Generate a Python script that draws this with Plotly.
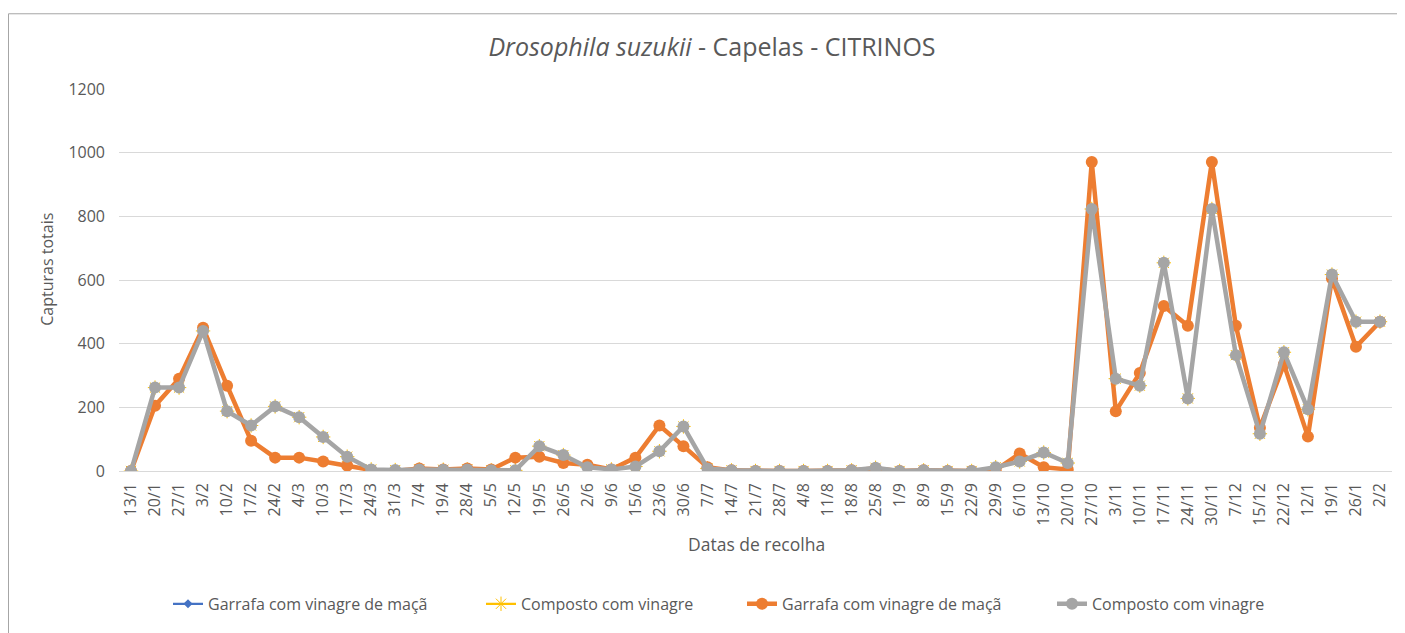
import plotly.graph_objects as go

datas = ["13/1","20/1","27/1","3/2","10/2","17/2","24/2","4/3","10/3","17/3","24/3","31/3",
         "7/4","19/4","28/4","5/5","12/5","19/5","26/5","2/6","9/6","15/6","23/6","30/6",
         "7/7","14/7","21/7","28/7","4/8","11/8","18/8","25/8","1/9","8/9","15/9","22/9",
         "29/9","6/10","13/10","20/10","27/10","3/11","10/11","17/11","24/11","30/11",
         "7/12","15/12","22/12","12/1","19/1","26/1","2/2"]

garrafa = [0,205,290,450,268,95,42,42,30,17,3,0,
           8,5,8,5,42,45,25,20,5,42,143,78,
           12,2,0,0,0,0,2,8,0,2,0,0,
           3,55,12,5,971,188,308,518,456,971,
           456,136,335,108,605,390,469]

composto = [0,262,262,440,188,143,203,169,107,45,5,3,
            5,4,5,2,2,78,50,12,5,14,62,140,
            8,2,0,0,0,0,2,10,0,2,0,0,
            12,30,58,25,823,290,268,654,228,823,
            364,117,373,194,617,469,469]

FONT = "Open Sans"
TXT = "#595959"

# page is shown with an 8px body margin: figure pixel = screen pixel - 8
W, H = 1397, 625
L, R, T, B = 111, 13, 81, 153
PW = W - L - R
PH = H - T - B

def px(x):
    return (x - L) / PW

def py(y):
    return (H - B - y) / PH

fig = go.Figure()
fig.add_trace(go.Scatter(x=datas, y=garrafa, name="Garrafa com vinagre de maçã", legend="legend",
                         mode="lines+markers", line=dict(color="#4472C4", width=2.25),
                         marker=dict(symbol="diamond", size=7, color="#4472C4")))
fig.add_trace(go.Scatter(x=datas, y=composto, name="Composto com vinagre", legend="legend2",
                         mode="lines+markers", line=dict(color="#FFC000", width=2.25),
                         marker=dict(symbol="asterisk-open", size=12, color="#FFC000",
                                     line=dict(color="#FFC000", width=1))))
fig.add_trace(go.Scatter(x=datas, y=garrafa, name="Garrafa com vinagre de maçã", legend="legend3",
                         mode="lines+markers", line=dict(color="#ED7D31", width=4.5),
                         marker=dict(symbol="circle", size=12, color="#ED7D31")))
fig.add_trace(go.Scatter(x=datas, y=composto, name="Composto com vinagre", legend="legend4",
                         mode="lines+markers", line=dict(color="#A5A5A5", width=4.5),
                         marker=dict(symbol="circle", size=12, color="#A5A5A5")))

leg_common = dict(orientation="h", yanchor="middle", xanchor="left",
                  font=dict(size=16, color=TXT, family=FONT), bgcolor="rgba(0,0,0,0)",
                  borderwidth=0)
leg_y = py(608)

fig.update_layout(
    width=W, height=H,
    margin=dict(l=L, r=R, t=T, b=B),
    paper_bgcolor="white", plot_bgcolor="white",
    font=dict(family=FONT, color=TXT, size=14),
    title=dict(text="<i>Drosophila suzukii</i> - Capelas - CITRINOS",
               x=704 / W, xanchor="center", y=1 - 39 / H, yanchor="middle",
               font=dict(family=FONT, size=25, color=TXT)),
    xaxis=dict(type="category", range=[-0.5, len(datas) - 0.5], tickangle=-90,
               showgrid=False, showline=False, ticks="", ticklabelstandoff=8,
               tickfont=dict(size=16, color=TXT), automargin=False),
    yaxis=dict(range=[0, 1200], dtick=200, showgrid=True, gridcolor="#D9D9D9", gridwidth=1.3,
               zeroline=True, zerolinecolor="#D9D9D9", zerolinewidth=1.3,
               showline=False, ticks="", ticklabelstandoff=13,
               tickfont=dict(size=16, color=TXT), automargin=False),
    annotations=[
        dict(text="Datas de recolha", xref="paper", yref="paper", x=px(748), y=py(547),
             xanchor="center", yanchor="middle", showarrow=False,
             font=dict(size=17.5, color=TXT, family=FONT)),
        dict(text="Capturas totais", xref="paper", yref="paper", x=px(39), y=py(266),
             xanchor="center", yanchor="middle", showarrow=False, textangle=-90,
             font=dict(size=16, color=TXT, family=FONT)),
    ],
    legend=dict(leg_common, x=px(168 - 8), y=leg_y),
    legend2=dict(leg_common, x=px(481 - 8), y=leg_y),
    legend3=dict(leg_common, x=px(742 - 8), y=leg_y),
    legend4=dict(leg_common, x=px(1052 - 8), y=leg_y),
    showlegend=True,
    shapes=[dict(type="rect", xref="paper", yref="paper",
                 x0=px(0.5), x1=px(1396), y0=py(H + 20), y1=py(4),
                 line=dict(color="#A6A6A6", width=1), layer="below")],
)

fig.write_html("out.html")
